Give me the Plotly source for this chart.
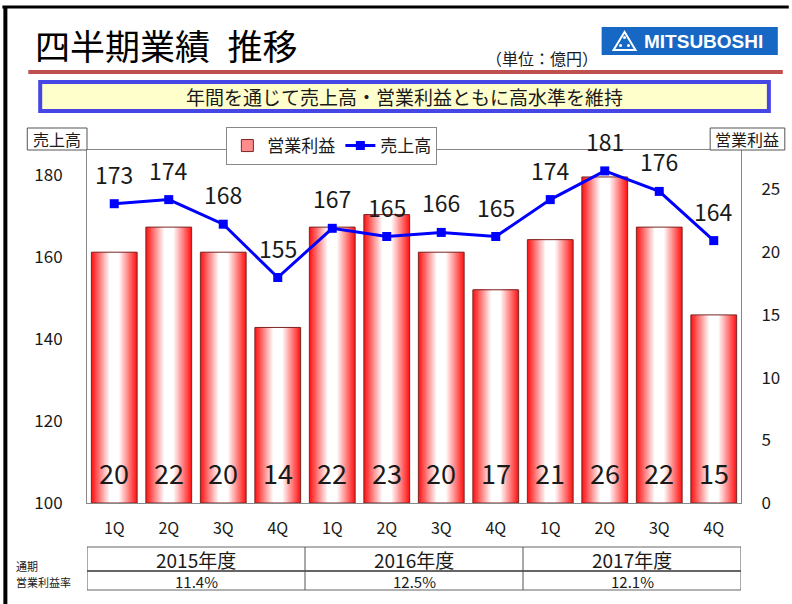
import plotly.graph_objects as go

# ---------------- data ----------------
quarters = ["1Q", "2Q", "3Q", "4Q", "1Q", "2Q", "3Q", "4Q", "1Q", "2Q", "3Q", "4Q"]
sales = [173, 174, 168, 155, 167, 165, 166, 165, 174, 181, 176, 164]          # 売上高 (億円)
op_profit = [20, 22, 20, 14, 22, 23, 20, 17, 21, 26, 22, 15]                   # 営業利益 (億円)
fiscal_years = ["2015年度", "2016年度", "2017年度"]
op_margin = ["11.4%", "12.5%", "12.1%"]

xs = list(range(len(quarters)))

FONT = "Noto Sans CJK JP"
TXT = "#1a1a1a"

W, H = 792, 604
L, R, T, B = 87, 48, 150, 101
PW, PH = W - L - R, H - T - B


def px(x):
    return (x - L) / PW


def py(y):
    return (H - B - y) / PH


fig = go.Figure()

# ---- bars with red-white-red horizontal gradient (nested overlay bars) ----
BAR_W = 0.84
N = 18
red = (255, 24, 24)
for i in range(N):
    w = BAR_W * (1 - i / N)
    t = min(1.0, i / (N * 0.78))
    col = tuple(int(round(red[k] + (255 - red[k]) * t)) for k in range(3))
    fig.add_trace(go.Bar(
        x=xs, y=op_profit, width=w, yaxis="y",
        marker=dict(color="rgb(%d,%d,%d)" % col, line=dict(width=0)),
        showlegend=False, hoverinfo="skip"))

# outline
fig.add_trace(go.Bar(
    x=xs, y=op_profit, width=BAR_W, yaxis="y",
    marker=dict(color="rgba(0,0,0,0)", line=dict(color="#7a2626", width=1)),
    showlegend=False, hoverinfo="skip"))

# legend entry for bars
fig.add_trace(go.Bar(
    x=[None], y=[None], name="営業利益", yaxis="y",
    marker=dict(color="rgb(255,140,140)", line=dict(color="#7a2626", width=1))))

# ---- sales line ----
fig.add_trace(go.Scatter(
    x=xs, y=sales, name="売上高", yaxis="y2", mode="lines+markers",
    line=dict(color="#0000ff", width=3),
    marker=dict(symbol="square", size=9, color="#0000ff")))

annotations = []
# bar value labels
for x, v in zip(xs, op_profit):
    annotations.append(dict(x=x, y=0, xref="x", yref="y", text=str(v),
                            showarrow=False, yanchor="middle", yshift=31,
                            font=dict(size=27, color=TXT, family=FONT)))
# line value labels
for x, v in zip(xs, sales):
    annotations.append(dict(x=x, y=v, xref="x", yref="y2", text=str(v),
                            showarrow=False, yanchor="middle", yshift=30,
                            font=dict(size=23, color=TXT, family=FONT)))

# title & header texts
annotations += [
    dict(x=px(33), y=py(45), xref="paper", yref="paper", text="四半期業績\u2002推移",
         showarrow=False, xanchor="left", yanchor="middle",
         font=dict(size=35, color="#000", family=FONT)),
    dict(x=px(486), y=py(58), xref="paper", yref="paper", text="（単位：億円）",
         showarrow=False, xanchor="left", yanchor="middle",
         font=dict(size=16, color=TXT, family=FONT)),
    dict(x=px(706), y=py(41.5), xref="paper", yref="paper", text="<b>MITSUBOSHI</b>",
         showarrow=False, xanchor="center", yanchor="middle",
         font=dict(size=19, color="white", family="Liberation Sans")),
    dict(x=px(406), y=py(97), xref="paper", yref="paper",
         text="年間を通じて売上高・営業利益ともに高水準を維持",
         showarrow=False, xanchor="center", yanchor="middle",
         font=dict(size=19, color=TXT, family=FONT)),
    dict(x=px(57), y=py(139), xref="paper", yref="paper", text="売上高",
         showarrow=False, xanchor="center", yanchor="middle",
         font=dict(size=16, color=TXT, family=FONT)),
    dict(x=px(750), y=py(139), xref="paper", yref="paper", text="営業利益",
         showarrow=False, xanchor="center", yanchor="middle",
         font=dict(size=16, color=TXT, family=FONT)),
    dict(x=px(14), y=py(566), xref="paper", yref="paper", text="通期",
         showarrow=False, xanchor="left", yanchor="middle",
         font=dict(size=11, color=TXT, family=FONT)),
    dict(x=px(14), y=py(582), xref="paper", yref="paper", text="営業利益率",
         showarrow=False, xanchor="left", yanchor="middle",
         font=dict(size=11, color=TXT, family=FONT)),
]

# table texts (columns tied to x-axis: 4 quarters per fiscal year)
for k, (fy, m) in enumerate(zip(fiscal_years, op_margin)):
    cx = 4 * k + 1.5
    annotations.append(dict(x=cx, y=py(559), xref="x", yref="paper", text=fy,
                            showarrow=False, yanchor="middle",
                            font=dict(size=19, color=TXT, family=FONT)))
    annotations.append(dict(x=cx, y=py(581), xref="x", yref="paper", text=m,
                            showarrow=False, yanchor="middle",
                            font=dict(size=15, color=TXT, family=FONT)))

shapes = [
    # frame
    dict(type="line", xref="paper", yref="paper", x0=px(2), x1=px(792), y0=py(7), y1=py(7),
         line=dict(color="#000", width=3)),
    dict(type="line", xref="paper", yref="paper", x0=px(5), x1=px(5), y0=py(6), y1=py(604),
         line=dict(color="#000", width=4)),
    # red rule
    dict(type="line", xref="paper", yref="paper", x0=px(28), x1=px(786), y0=py(72), y1=py(72),
         line=dict(color="#c0504d", width=4)),
    # logo box
    dict(type="rect", xref="paper", yref="paper", x0=px(604), x1=px(781), y0=py(55), y1=py(27),
         fillcolor="#1767c4", line=dict(width=0)),
    dict(type="path", xref="paper", yref="paper",
         path="M %f %f L %f %f L %f %f Z" % (px(627), py(32), px(616), py(50), px(638), py(50)),
         line=dict(color="white", width=2)),
    dict(type="circle", xref="paper", yref="paper", x0=px(625.5), x1=px(628.5), y0=py(39), y1=py(36),
         fillcolor="white", line=dict(width=0)),
    dict(type="circle", xref="paper", yref="paper", x0=px(621.5), x1=px(624.5), y0=py(47), y1=py(44),
         fillcolor="white", line=dict(width=0)),
    dict(type="circle", xref="paper", yref="paper", x0=px(629.5), x1=px(632.5), y0=py(47), y1=py(44),
         fillcolor="white", line=dict(width=0)),
    # banner
    dict(type="rect", xref="paper", yref="paper", x0=px(40), x1=px(772), y0=py(111), y1=py(82),
         fillcolor="#ffffcc", line=dict(color="#4646e6", width=4)),
    # axis title boxes
    dict(type="rect", xref="paper", yref="paper", x0=px(27), x1=px(87), y0=py(150), y1=py(128),
         fillcolor="white", line=dict(color="#555", width=1)),
    dict(type="rect", xref="paper", yref="paper", x0=px(713), x1=px(788), y0=py(150), y1=py(128),
         fillcolor="white", line=dict(color="#555", width=1)),
    # table
    dict(type="line", xref="x", yref="paper", x0=-0.5, x1=11.5, y0=py(547), y1=py(547),
         line=dict(color="#666", width=1)),
    dict(type="line", xref="x", yref="paper", x0=-0.5, x1=11.5, y0=py(571), y1=py(571),
         line=dict(color="#333", width=1.5)),
    dict(type="line", xref="x", yref="paper", x0=-0.5, x1=11.5, y0=py(590), y1=py(590),
         line=dict(color="#666", width=1)),
]
for k in range(len(fiscal_years) + 1):
    shapes.append(dict(type="line", xref="x", yref="paper", x0=4 * k - 0.5, x1=4 * k - 0.5,
                       y0=py(547), y1=py(590), line=dict(color="#555", width=1)))

fig.update_layout(
    width=W, height=H,
    margin=dict(l=L, r=R, t=T, b=B, pad=0),
    paper_bgcolor="white", plot_bgcolor="white",
    barmode="overlay",
    font=dict(family=FONT, color=TXT),
    showlegend=True,
    legend=dict(orientation="h", x=px(227), y=py(127), xanchor="left", yanchor="top",
                bgcolor="white", bordercolor="#888", borderwidth=1,
                font=dict(size=17, family=FONT, color=TXT), traceorder="normal",
                itemwidth=30),
    xaxis=dict(range=[-0.5, 11.5], tickmode="array", tickvals=xs, ticktext=quarters,
               showline=True, mirror=True, linecolor="#888", linewidth=1,
               showgrid=False, zeroline=False, ticks="", ticklabelstandoff=11,
               tickfont=dict(size=16, family=FONT, color=TXT), fixedrange=True),
    yaxis=dict(side="right", range=[0, 28.15], tickmode="array", tickvals=[0, 5, 10, 15, 20, 25],
               showline=True, linecolor="#888", linewidth=1, showgrid=False, zeroline=False,
               ticks="", ticklabelstandoff=16,
               tickfont=dict(size=17, family=FONT, color=TXT)),
    yaxis2=dict(overlaying="y", side="left", range=[100, 186.1], tickmode="array",
                tickvals=[100, 120, 140, 160, 180],
                showline=True, linecolor="#888", linewidth=1, showgrid=False, zeroline=False,
                ticks="", ticklabelstandoff=20,
                tickfont=dict(size=17, family=FONT, color=TXT)),
    annotations=annotations,
    shapes=shapes,
)

fig.write_html("out.html", config={"displayModeBar": False},
               post_script="document.body.style.margin='0px';")
